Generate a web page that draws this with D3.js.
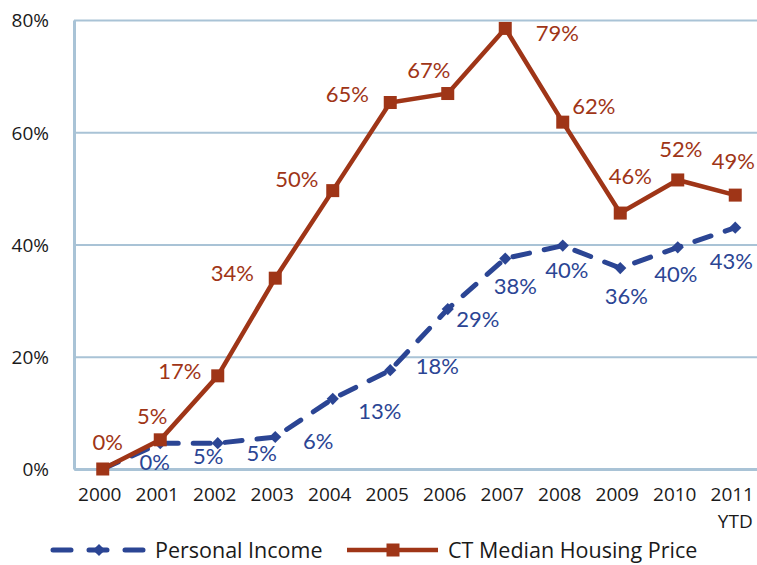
<!DOCTYPE html>
<html lang="en">
<head>
    <meta charset="UTF-8">
    <title>Personal Income vs CT Median Housing Price</title>
    <script src="https://d3js.org/d3.v7.min.js"></script>
    <style>
        * { margin: 0; padding: 0; box-sizing: border-box; }
        body { background: #ffffff; width: 757px; height: 565px; overflow: hidden; }
        .axis text { font-family: "Open Sans", sans-serif; font-size: 19px; fill: #1a1a1a; }
        .grid line, .axis path { stroke: #a9c3d6; }
        .dlabel { font-family: Lato, sans-serif; font-size: 22px; }
        .legend text { font-family: "Open Sans", sans-serif; font-size: 21.5px; fill: #1a1a1a; }
    </style>
</head>
<body>
    <svg width="757" height="565"></svg>

    <script>
        // data (cumulative % change since 2000)
        const years = ["2000", "2001", "2002", "2003", "2004", "2005", "2006", "2007", "2008", "2009", "2010", "2011"];
        const yearNotes = ["", "", "", "", "", "", "", "", "", "", "", "YTD"];
        const income = [0, 4.6, 4.6, 5.7, 12.5, 17.6, 28.5, 37.5, 39.8, 35.8, 39.5, 43.0];
        const housing = [0, 5.2, 16.6, 34.0, 49.6, 65.3, 66.9, 78.5, 61.8, 45.6, 51.5, 48.8];
        const yTicks = [0, 20, 40, 60, 80];
        const seriesNames = ["Personal Income", "CT Median Housing Price"];

        // label offsets (px, centre of label relative to point) - hand placed like the original
        const incomeLabelOffset = [[52, -7], [48, 13], [44, 10], [43, 4], [47, 12], [47, -4], [30, 10], [10, 28], [4, 24], [6, 28], [-2, 27], [-4, 33]];
        const housingLabelOffset = [[5, -27], [-8, -24], [-38, -5], [-43, -5], [-36, -12], [-43, -8], [-19, -23], [52, 5], [31, -16], [10, -37], [3, -31], [-2, -34]];

        const blue = "#2b4594";
        const red = "#9f3517";

        const svg = d3.select("svg");
        const plotLeft = 74, plotRight = 764, plotTop = 20, plotBottom = 469;

        const x = d3.scaleBand().domain(years).range([plotLeft, plotRight]);
        const cx = d => x(d) + x.bandwidth() / 2;
        const y = d3.scaleLinear().domain([0, 80]).range([plotBottom, plotTop]);

        // gridlines + y axis
        const yAxis = svg.append("g")
            .attr("class", "axis grid")
            .attr("transform", `translate(${plotLeft},0)`)
            .call(d3.axisLeft(y).tickValues(yTicks).tickFormat(d => d + "%")
                .tickSizeInner(-(plotRight - plotLeft)).tickSizeOuter(0).tickPadding(25));
        yAxis.selectAll("line").attr("stroke-width", 2.2);
        yAxis.select(".domain").attr("stroke-width", 3);
        yAxis.selectAll("text").attr("dy", "0.36em");

        // x axis
        const xAxis = svg.append("g")
            .attr("class", "axis")
            .attr("transform", `translate(0,${plotBottom})`)
            .call(d3.axisBottom(x).tickSize(0).tickPadding(19));
        xAxis.select(".domain").attr("stroke-width", 3);
        xAxis.selectAll(".tick text").attr("dx", -3);
        xAxis.selectAll(".tick").each(function (d, i) {
            if (yearNotes[i]) {
                d3.select(this).append("text")
                    .attr("x", 0).attr("y", 19).attr("dy", "2.08em").attr("dx", 0)
                    .attr("fill", "#1a1a1a")
                    .text(yearNotes[i]);
            }
        });

        const line = d3.line().x((d, i) => cx(years[i])).y(d => y(d));

        // personal income (dashed, under)
        svg.append("path")
            .datum(income)
            .attr("d", line)
            .attr("fill", "none")
            .attr("stroke", blue)
            .attr("stroke-width", 5)
            .attr("stroke-linecap", "round")
            .attr("stroke-dasharray", "17 15");

        const diamond = d3.symbol().type(d3.symbolDiamond2).size(95);
        svg.append("g").selectAll("path")
            .data(income)
            .join("path")
            .attr("d", diamond)
            .attr("fill", blue)
            .attr("transform", (d, i) => `translate(${cx(years[i])},${y(d)})`);

        // housing price (solid, on top)
        svg.append("path")
            .datum(housing)
            .attr("d", line)
            .attr("fill", "none")
            .attr("stroke", red)
            .attr("stroke-width", 4.5);

        svg.append("g").selectAll("rect")
            .data(housing)
            .join("rect")
            .attr("x", (d, i) => cx(years[i]) - 6.5)
            .attr("y", d => y(d) - 6.5)
            .attr("width", 13)
            .attr("height", 13)
            .attr("fill", red);

        // data labels
        svg.append("g").selectAll("text")
            .data(income)
            .join("text")
            .attr("class", "dlabel")
            .attr("fill", blue)
            .attr("text-anchor", "middle")
            .attr("dy", "0.36em")
            .attr("x", (d, i) => cx(years[i]) + incomeLabelOffset[i][0])
            .attr("y", (d, i) => y(d) + incomeLabelOffset[i][1])
            .text(d => Math.round(d) + "%");

        svg.append("g").selectAll("text")
            .data(housing)
            .join("text")
            .attr("class", "dlabel")
            .attr("fill", red)
            .attr("text-anchor", "middle")
            .attr("dy", "0.36em")
            .attr("x", (d, i) => cx(years[i]) + housingLabelOffset[i][0])
            .attr("y", (d, i) => y(d) + housingLabelOffset[i][1])
            .text(d => Math.round(d) + "%");

        // legend
        const legend = svg.append("g").attr("class", "legend").attr("transform", "translate(0,550)");

        legend.append("line")
            .attr("x1", 53).attr("x2", 147)
            .attr("stroke", blue).attr("stroke-width", 5)
            .attr("stroke-linecap", "round")
            .attr("stroke-dasharray", "18 18");
        legend.append("path")
            .attr("d", diamond)
            .attr("fill", blue)
            .attr("transform", "translate(99,0)");
        legend.append("text")
            .attr("x", 155).attr("dy", "0.36em")
            .text(seriesNames[0]);

        legend.append("line")
            .attr("x1", 347).attr("x2", 438)
            .attr("stroke", red).attr("stroke-width", 4.5);
        legend.append("rect")
            .attr("x", 393 - 6.5).attr("y", -6.5)
            .attr("width", 13).attr("height", 13)
            .attr("fill", red);
        legend.append("text")
            .attr("x", 448).attr("dy", "0.36em")
            .text(seriesNames[1]);
    </script>
</body>
</html>
